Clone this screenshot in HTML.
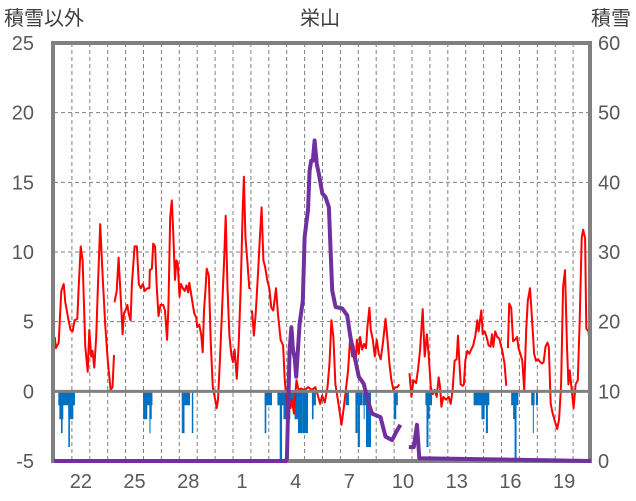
<!DOCTYPE html>
<html><head><meta charset="utf-8"><style>
html,body{margin:0;padding:0;background:#fff;}
svg{display:block;font-family:"Liberation Sans","Noto Sans CJK JP",sans-serif;}
</style></head><body>
<svg id="chart" width="636" height="501" viewBox="0 0 636 501">
<text x="320" y="25" font-size="20" fill="#404040" text-anchor="middle">栄山</text>
<text x="4" y="25" font-size="20" fill="#404040">積雪以外</text>
<text x="631" y="25" font-size="20" fill="#404040" text-anchor="end">積雪</text>
<g id="grid"></g>
<g id="bars"></g>
<g id="lines"></g>
<g id="frame"></g>
<g id="axes"></g>
</svg>
<script>
const leftTicks=[-5,0,5,10,15,20,25];
const rightTicks=[0,10,20,30,40,50,60];
const xLabels=["22","25","28","1","4","7","10","13","16","19"];
const xLabelDays=[1.5,4.5,7.5,10.5,13.5,16.5,19.5,22.5,25.5,28.5];
const redT=[0.04,0.11,0.26,0.41,0.54,0.63,0.78,0.93,1.04,1.15,1.3,1.38,1.49,1.6,1.75,1.88,1.97,2.08,2.15,2.25,2.36,2.45,2.58,2.72,2.86,3.01,3.08,3.16,3.27,3.35,3.37,3.38,3.5,3.61,3.72,3.83,3.91,4.02,4.1,4.17,4.28,4.35,4.5,4.63,4.74,4.85,4.96,5.07,5.22,5.33,5.35,5.47,5.54,5.65,5.73,5.84,5.95,6.1,6.2,6.32,6.39,6.49,6.58,6.65,6.76,6.84,6.91,7.01,7.09,7.2,7.3,7.4,7.49,7.56,7.67,7.83,7.95,8.0,8.12,8.23,8.31,8.38,8.46,8.53,8.65,8.76,8.87,8.98,9.09,9.16,9.27,9.38,9.5,9.59,9.69,9.8,9.91,10.0,10.09,10.21,10.32,10.43,10.54,10.61,10.69,10.8,10.91,10.98,11.0,11.06,11.17,11.28,11.4,11.51,11.6,11.7,11.8,11.91,12.03,12.14,12.25,12.4,12.51,12.66,12.8,12.88,12.99,13.1,13.21,13.29,13.4,13.48,13.55,13.66,13.8,14.0,14.2,14.4,14.6,14.72,14.87,14.98,15.13,15.28,15.39,15.5,15.61,15.72,15.83,15.95,16.06,16.17,16.28,16.43,16.55,16.66,16.74,16.85,16.92,17.03,17.1,17.21,17.32,17.43,17.51,17.62,17.7,17.81,17.92,18.03,18.14,18.25,18.37,18.52,18.63,18.74,18.85,18.96,19.07,19.18,19.29,19.5,19.86,19.97,20.08,20.23,20.34,20.45,20.6,20.71,20.83,20.94,21.05,21.16,21.27,21.38,21.49,21.57,21.64,21.75,21.9,22.05,22.16,22.27,22.38,22.49,22.57,22.64,22.72,22.83,22.9,22.98,23.09,23.2,23.31,23.42,23.54,23.65,23.72,23.8,23.87,23.95,24.06,24.17,24.28,24.39,24.47,24.54,24.65,24.76,24.87,24.99,25.06,25.17,25.27,25.3,25.36,25.43,25.54,25.65,25.76,25.87,25.95,26.05,26.16,26.27,26.38,26.47,26.59,26.71,26.82,26.93,27.05,27.16,27.27,27.35,27.46,27.57,27.64,27.75,27.86,27.97,28.11,28.22,28.33,28.44,28.55,28.66,28.74,28.81,28.92,29.03,29.14,29.26,29.37,29.48,29.56,29.67,29.74,29.86,29.97];
const redV=[3.9,3.1,3.5,7.2,7.7,6.4,5.3,4.4,4.3,5.1,5.2,7.5,10.4,9.4,3.2,1.4,4.4,2.5,2.9,1.7,3.9,7.5,12.0,8.2,4.8,2.1,1.2,0.1,0.3,2.6,null,6.4,7.2,9.6,6.9,4.1,5.6,5.9,6.2,5.6,5.1,7.7,10.4,10.4,7.7,7.4,7.7,7.2,7.4,7.4,8.7,8.8,10.6,10.4,7.7,5.4,6.2,6.2,5.8,3.7,6.0,12.5,13.7,11.8,8.0,9.4,9.2,6.8,7.7,7.4,7.2,7.6,7.1,7.8,6.9,5.6,5.3,4.6,4.8,4.0,2.8,5.8,7.2,8.8,8.3,3.4,0.3,-0.4,-1.2,-0.6,2.2,5.6,9.4,12.6,7.4,4.0,2.6,2.1,3.0,0.9,3.4,7.4,13.0,15.4,11.1,9.4,7.4,7.4,null,5.8,4.0,5.8,8.6,11.2,13.2,9.4,8.9,8.0,7.4,6.0,5.8,7.4,5.6,3.7,3.3,1.0,-0.7,-0.7,-1.2,-0.6,-1.6,-0.2,0.8,0.1,0.2,0.1,0.3,0.1,0.3,-0.2,-0.9,-0.3,-0.8,0.3,2.0,5.1,3.9,0.5,-0.4,-1.4,-2.4,-1.4,-0.2,1.5,3.9,2.5,3.3,2.0,3.7,2.7,3.9,3.0,3.4,3.1,4.6,6.0,4.4,3.7,2.5,3.7,2.7,2.3,3.4,5.2,3.7,2.0,0.8,0.1,0.3,0.3,0.5,null,1.3,-0.4,0.8,0.6,1.6,3.0,5.9,2.5,4.1,2.5,0.3,-0.2,0.1,-0.4,1.0,0.3,-1.1,-0.4,-0.6,-0.4,-0.9,0.1,2.2,2.3,4.0,2.2,0.5,0.4,0.5,2.2,2.9,2.7,3.0,3.3,4.0,5.1,4.3,5.1,5.8,4.1,4.3,3.9,3.3,3.2,4.1,3.2,4.3,3.9,3.8,3.2,2.8,2.0,0.4,null,3.1,6.3,6.0,3.6,3.7,3.9,3.1,2.7,2.2,0.1,4.4,6.5,7.4,5.1,2.7,2.2,2.3,2.1,2.0,2.1,3.2,3.5,3.2,-0.9,-1.6,-2.1,-2.7,-2.0,0.5,7.5,8.7,3.2,0.5,1.5,0.1,-1.2,0.5,0.8,5.1,11.0,11.6,11.0,4.5,4.3,2.8];
const snowT=[0,12.95,13.01,13.16,13.26,13.35,13.45,13.53,13.72,13.9,14.0,14.09,14.19,14.28,14.37,14.46,14.56,14.68,14.8,14.99,15.17,15.36,15.45,15.54,15.73,16.1,16.38,16.56,16.8,17.03,17.3,17.58,17.77,18.24,18.52,18.89,19.17,19.35,19.5,19.82,20.1,20.28,20.41,30];
const snowV=[0,0,0.4,15.9,19.2,15.9,14.7,12.1,19.7,23,32.1,34,36,41.7,43.1,43.1,46,42.6,41.2,38.4,37.9,36.4,30.2,24.5,22.1,21.9,20.9,17.8,14.9,12.1,11.1,8.3,6.8,6.3,3.5,3.0,4.4,5.2,null,2.0,2.0,5.2,0.4,0];
const barStart=[0.24,0.3,0.39,0.8,0.8,4.98,4.98,5.33,5.33,7.14,7.14,7.7,11.77,11.77,12.48,12.61,12.82,13.2,13.44,13.63,13.89,14.41,14.41,16.3,16.84,16.84,16.97,17.3,17.24,17.43,17.58,18.98,18.98,20.75,20.81,20.81,23.44,23.74,23.88,23.88,24.13,25.54,25.65,25.73,26.66,26.75,26.92];
const barEnd=[1.17,0.52,0.48,1.08,0.89,5.5,5.21,5.46,5.39,7.6,7.29,7.78,12.18,11.86,12.97,12.74,13.2,13.44,13.63,13.89,14.19,14.63,14.5,16.48,17.22,16.96,17.09,17.22,17.71,17.71,17.66,19.21,19.12,21.12,20.98,20.92,23.83,24.32,24.06,24.0,24.24,25.94,25.81,25.84,26.85,26.8,27.04];
const barVal=[1,2,3,2,4,1,2,2,3,1,3,3,1,3,1,5,2,1,2,3,3,1,2,1,1,3,4,2,1,4,3,1,2,1,2,4,1,1,2,2,3,1,2,5,1,3,1];

const NS='http://www.w3.org/2000/svg';
const X0=54,X1=591,DAYS=30,YT=43,YB=461;
function xs(t){return X0+t*(X1-X0)/DAYS;}
function yl(v){return YB-(v+5)*(YB-YT)/30;}
function yr(s){return YB-s*(YB-YT)/60;}
function mk(tag,attrs,parent){const e=document.createElementNS(NS,tag);for(const k in attrs)e.setAttribute(k,attrs[k]);parent.appendChild(e);return e;}
const grid=document.getElementById('grid'),bars=document.getElementById('bars'),lines=document.getElementById('lines'),frame=document.getElementById('frame'),axes=document.getElementById('axes');
for(const v of leftTicks){ if(v===-5||v===0||v===25) continue;
  const l=mk('line',{x1:X0,x2:X1,y1:yl(v),y2:yl(v),stroke:'#808080','stroke-width':1,'stroke-dasharray':'4,3'},grid);
  
  
}
for(let d=1;d<DAYS;d++){
  const l=mk('line',{x1:xs(d),x2:xs(d),y1:YT,y2:YB,stroke:'#808080','stroke-width':1,'stroke-dasharray':'4,3'},grid);
  
  
}
for(let i=0;i<barStart.length;i++){
  const x=xs(barStart[i]),w=Math.max(1,xs(barEnd[i])-x);
  const r=mk('rect',{x:x,y:yl(0),width:w,height:yl(-barVal[i])-yl(0),fill:'#0070c0'},bars);
  
  
}
function path(ts,vs,fy){let d='',pen=false;for(let i=0;i<ts.length;i++){if(vs[i]===null){pen=false;continue;}d+=(pen?'L':'M')+xs(ts[i]).toFixed(1)+','+fy(vs[i]).toFixed(1);pen=true;}return d;}
const zl=mk('line',{x1:X0,x2:X1,y1:yl(0),y2:yl(0),stroke:'#808080','stroke-width':3},frame);


const rp=mk('path',{d:path(redT,redV,yl),fill:'none',stroke:'#ff0000','stroke-width':2,'stroke-linejoin':'round'},lines);


const fr=mk('rect',{x:53,y:43,width:537,height:418,fill:'none',stroke:'#808080','stroke-width':4},frame);


const sp=mk('path',{d:path(snowT,snowV,yr),fill:'none',stroke:'#7030a0','stroke-width':4,'stroke-linejoin':'round'},frame);


for(const v of leftTicks){
  const t=mk('text',{x:34,y:yl(v)+7,'font-size':20,fill:'#595959','text-anchor':'end'},axes);t.textContent=String(v);
  
  
}
for(const v of rightTicks){
  const t=mk('text',{x:598,y:yr(v)+7,'font-size':20,fill:'#595959'},axes);t.textContent=String(v);
  
  
}
for(let i=0;i<xLabels.length;i++){
  const t=mk('text',{x:xs(xLabelDays[i]),y:488,'font-size':20,fill:'#595959','text-anchor':'middle'},axes);t.textContent=xLabels[i];
  
  
}
</script>
</body></html>
